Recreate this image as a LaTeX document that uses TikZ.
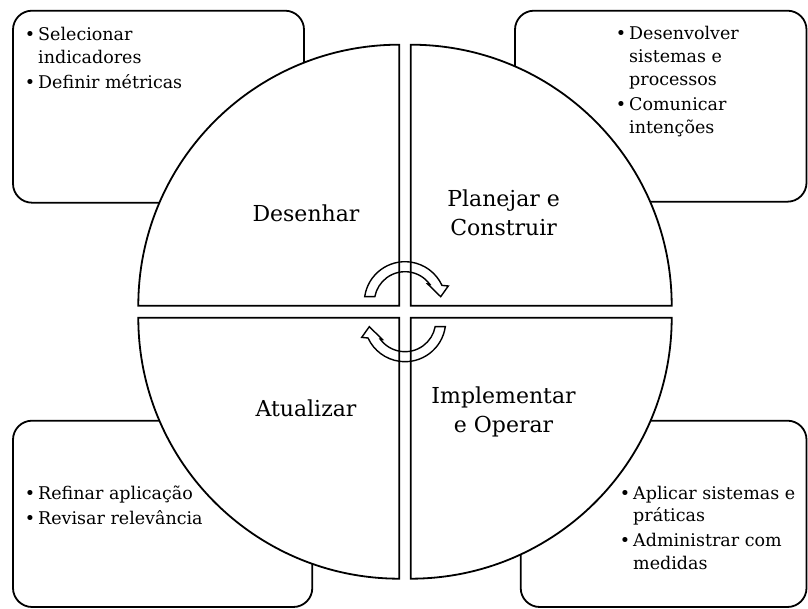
\documentclass[tikz,border=0pt]{standalone}
\usepackage{fontspec}
\setmainfont{DejaVu Serif}
% bullet hung to the left of an item's first line
\newcommand\bul{\llap{\textbullet\hspace{3pt}}}
% outline of one curved block arrow, around its own centre
\newcommand\cyclepath{%
  (171.95:40.7) arc[start angle=171.95,end angle=24.7,radius=40.7]
  -- (43.3,16.4) -- (35.7,5.7) -- (22.7,18.4)
  -- (36.3:30.7) arc[start angle=36.3,end angle=169.3,radius=30.7] -- cycle}
\begin{document}
\begin{tikzpicture}[x=1pt,y=1pt,
  panel/.style={draw=black,line width=1.8pt,fill=white,rounded corners=19pt},
  quad/.style={draw=black,line width=1.8pt,fill=white,line join=miter},
  itemtext/.style={inner sep=0pt,anchor=base west,font=\fontsize{17.5}{21}\selectfont},
  phase/.style={inner sep=0pt,anchor=base,font=\fontsize{22}{26}\selectfont},
  cyclearrow/.style={draw=black,line width=1.4pt,line join=miter}
]
\useasboundingbox (0,0) rectangle (808,609);

% corner panels behind the wheel
\draw[panel] (13,598.3) rectangle (304,406.3);
\draw[panel] (515,598.3) rectangle (806.5,407.3);
\draw[panel] (13,188.3) rectangle (312.3,2);
\draw[panel] (520.7,188.3) rectangle (806.5,2);

% the four quarters of the wheel
\draw[quad] (399.3,303.3) -- (138.3,303.3) arc[start angle=180,end angle=90,radius=261] -- cycle;
\draw[quad] (410.7,303.3) -- (410.7,564.3) arc[start angle=90,end angle=0,radius=261] -- cycle;
\draw[quad] (399.3,291.3) -- (399.3,30.3) arc[start angle=270,end angle=180,radius=261] -- cycle;
\draw[quad] (410.7,291.3) -- (671.7,291.3) arc[start angle=0,end angle=-90,radius=261] -- cycle;

% phase names
\node[phase] (lblDes) at (306,387.3) {Desenhar};
\node[phase] (lblPlanA) at (503.6,402.3) {Planejar e};
\node[phase] (lblPlanB) at (503.6,373.3) {Construir};
\node[phase] (lblImpA) at (503.6,205) {Implementar};
\node[phase] (lblImpB) at (503.6,176) {e Operar};
\node[phase] (lblAtu) at (306,192) {Atualizar};

% curved arrows at the hub
\begin{scope}[shift={(405,306.6)}]
  \draw[cyclearrow] \cyclepath;
\end{scope}
\begin{scope}[rotate around={180:(405,297.3)}]
  \begin{scope}[shift={(405,306.6)}]
    \draw[cyclearrow] \cyclepath;
  \end{scope}
\end{scope}

% panel items
\node[itemtext] (tl1) at (38,568.3) {\bul Selecionar};
\node[itemtext] (tl2) at (38,545.7) {indicadores};
\node[itemtext] (tl3) at (38,520) {\bul Definir métricas};

\node[itemtext] (tr1) at (629,569) {\bul Desenvolver};
\node[itemtext] (tr2) at (629,546.4) {sistemas e};
\node[itemtext] (tr3) at (629,523.8) {processos};
\node[itemtext] (tr4) at (629,498.2) {\bul Comunicar};
\node[itemtext] (tr5) at (629,475.6) {intenções};

\node[itemtext] (bl1) at (38,109.7) {\bul Refinar aplicação};
\node[itemtext] (bl2) at (38,84) {\bul Revisar relevância};

\node[itemtext] (br1) at (633,109.7) {\bul Aplicar sistemas e};
\node[itemtext] (br2) at (633,87.1) {práticas};
\node[itemtext] (br3) at (633,62.3) {\bul Administrar com};
\node[itemtext] (br4) at (633,39.7) {medidas};
\end{tikzpicture}
\end{document}
